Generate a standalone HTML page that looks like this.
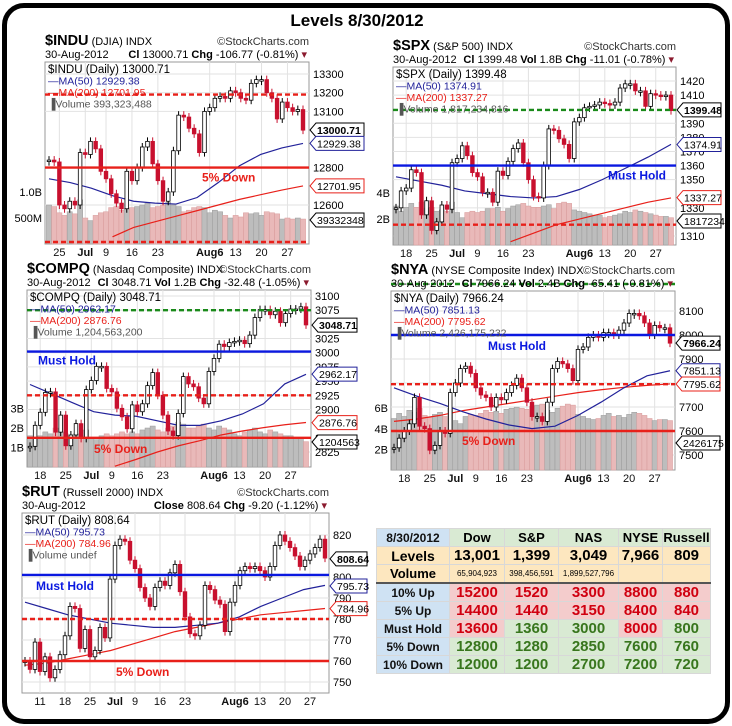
<!DOCTYPE html>
<html><head><meta charset="utf-8">
<style>
body{margin:0;width:732px;height:726px;background:#fff;overflow:hidden;position:relative;font-family:"Liberation Sans",sans-serif}
#frame{position:absolute;left:2px;top:3px;width:718px;height:711px;border:5px solid #000;border-radius:22px}
svg{position:absolute;left:0;top:0}
#tbl{position:absolute;left:376px;top:528px;border-collapse:collapse;font-family:"Liberation Sans",sans-serif}
#tbl td{border:1px solid #d8d8d8;text-align:center;padding:0;height:17px;line-height:16px;font-weight:bold}
.lb{background:#cfe2f3;font-size:12px;color:#111}
.hd{background:#d9ead3;font-size:13px}
.or{background:#fde7bf}
.rd{background:#f4cccc;color:#d00010;font-size:15px}
.gr{background:#d9ead3;color:#38761d;font-size:15px}
.vol{font-size:8px;font-weight:normal!important}
</style></head><body>
<div id="frame"></div>
<svg id="s" width="732" height="726">
<text x="357" y="26" text-anchor="middle" font-size="17" font-weight="bold">Levels 8/30/2012</text>
</svg>
<table id="tbl">
<tr><td class="lb" style="width:72px">8/30/2012</td><td class="hd" style="width:54px">Dow</td><td class="hd" style="width:53px">S&amp;P</td><td class="hd" style="width:59px">NAS</td><td class="hd" style="width:43px">NYSE</td><td class="hd" style="width:47px">Russell</td></tr>
<tr style="font-size:15px"><td class="or" style="font-size:14px">Levels</td><td class="or">13,001</td><td class="or">1,399</td><td class="or">3,049</td><td class="or">7,966</td><td class="or">809</td></tr>
<tr style="border-bottom:2px solid #555"><td class="or" style="font-size:13px">Volume</td><td class="or vol">65,904,923</td><td class="or vol">398,456,591</td><td class="or vol">1,899,527,796</td><td class="or"></td><td class="or"></td></tr>
<tr><td class="lb">10% Up</td><td class="rd">15200</td><td class="rd">1520</td><td class="rd">3300</td><td class="rd">8800</td><td class="rd">880</td></tr>
<tr><td class="lb">5% Up</td><td class="rd">14400</td><td class="rd">1440</td><td class="rd">3150</td><td class="rd">8400</td><td class="rd">840</td></tr>
<tr><td class="lb">Must Hold</td><td class="rd">13600</td><td class="gr">1360</td><td class="gr">3000</td><td class="rd">8000</td><td class="gr">800</td></tr>
<tr><td class="lb">5% Down</td><td class="gr">12800</td><td class="gr">1280</td><td class="gr">2850</td><td class="gr">7600</td><td class="gr">760</td></tr>
<tr><td class="lb">10% Down</td><td class="gr">12000</td><td class="gr">1200</td><td class="gr">2700</td><td class="gr">7200</td><td class="gr">720</td></tr>
</table>
<script>
// ---- data ----
const induClose=[12840,12830,12600,12580,12620,12600,12880,12870,12940,12900,12780,12740,12660,12610,12580,12780,12730,12800,12910,12940,12820,12730,12620,12670,12890,13080,13070,13010,12980,12880,13100,13120,13170,13180,13170,13210,13200,13170,13160,13250,13270,13270,13200,13170,13060,13150,13120,13100,13110,13000];
const induVol=[0.75,0.72,0.6,0.55,0.62,0.58,0.85,0.5,0.45,0.55,0.6,0.62,0.7,0.72,0.65,0.68,0.7,0.72,0.75,0.78,0.7,0.72,0.75,0.8,0.75,0.72,0.62,0.65,0.7,0.72,0.7,0.6,0.65,0.62,0.55,0.5,0.55,0.52,0.6,0.58,0.6,0.55,0.62,0.6,0.58,0.48,0.5,0.48,0.5,0.48];
const induMa50=[12740,12720,12690,12650,12620,12610,12605,12640,12720,12810,12870,12905,12929];
const induMa200=[null,null,null,12430,12480,12510,12540,12570,12600,12630,12655,12680,12702];
const induXLabels=["25","Jul","9","16","23","Aug6","13","20","27"];
const induXIdx=[2,7,11,16,21,31,36,41,46];

const spxClose=[1330,1342,1344,1357,1355,1325,1335,1314,1320,1332,1329,1362,1365,1374,1367,1355,1352,1341,1341,1334,1356,1353,1363,1372,1376,1362,1350,1338,1337,1360,1386,1385,1379,1375,1365,1391,1394,1401,1402,1403,1405,1404,1403,1405,1415,1418,1418,1413,1413,1402,1411,1410,1409,1410,1399];
const spxVol=[3.0,2.6,2.9,3.2,2.9,3.3,2.8,2.9,2.6,2.7,2.6,3.3,2.5,2.1,2.5,2.6,2.5,2.6,2.8,2.8,2.9,2.6,2.8,3.0,3.1,3.2,3.0,2.9,2.9,3.0,3.1,2.8,3.2,3.3,3.2,2.7,2.6,2.5,2.4,2.3,2.3,2.1,2.2,2.3,2.4,2.6,2.5,2.7,2.6,2.5,2.4,2.3,2.2,2.2,2.1];
const spxMa50=[1352,1349,1346,1342,1340,1338,1337,1338,1343,1350,1358,1366,1375];
const spxMa200=[null,null,null,null,null,1306,1312,1318,1322,1326,1330,1334,1337];
const spxXLabels=["18","25","Jul","9","16","23","Aug6","13","20","27"];
const spxXIdx=[2,7,12,16,21,26,36,41,46,51];

const compClose=[2835,2872,2895,2930,2931,2860,2890,2836,2855,2875,2849,2935,2951,2976,2976,2937,2931,2902,2887,2866,2908,2896,2910,2942,2965,2925,2890,2862,2854,2893,2958,2945,2940,2920,2910,2967,2990,3015,3011,3018,3020,3022,3016,3031,3062,3076,3076,3067,3073,3053,3069,3077,3077,3081,3049];
const compVol=[1.6,1.5,1.6,1.8,1.7,2.0,1.8,1.7,1.6,1.7,1.6,1.9,1.5,1.4,1.6,1.7,1.6,1.7,1.8,1.7,1.8,1.7,1.9,2.0,2.1,1.9,1.8,2.0,2.1,2.3,2.2,2.0,2.0,2.1,2.2,2.0,1.9,2.1,2.0,1.9,1.7,1.6,1.8,1.9,2.0,1.8,1.7,1.9,1.8,1.7,1.6,1.6,1.5,1.5,1.3];
const compMa50=[2944,2928,2912,2896,2890,2888,2880,2872,2872,2880,2892,2910,2945,2962];
const compMa200=[null,null,null,null,2800,2812,2825,2836,2845,2855,2862,2868,2873,2877];
const compXLabels=["18","25","Jul","9","16","23","Aug6","13","20","27"];
const compXIdx=[2,7,12,16,21,26,36,41,46,51];

const nyaClose=[7530,7570,7600,7630,7740,7620,7610,7520,7540,7600,7590,7760,7800,7860,7870,7840,7780,7750,7740,7700,7740,7730,7760,7790,7820,7780,7720,7660,7660,7640,7720,7860,7890,7880,7860,7810,7940,7950,7990,8000,7990,8010,8010,8000,8020,8050,8090,8090,8080,8050,8000,8040,8030,8030,7966];
const nyaVol=[5.0,5.5,5.2,5.8,5.6,6.0,5.3,5.1,5.4,5.6,5.2,6.0,4.8,4.5,5.2,5.4,5.3,5.5,5.8,5.6,5.7,5.5,5.9,6.0,6.1,6.0,5.9,6.2,6.3,6.4,5.8,5.6,6.0,6.2,6.4,6.3,5.4,5.2,5.0,4.9,5.0,5.3,5.5,5.2,5.3,5.1,5.4,5.6,5.5,5.3,5.0,4.8,4.9,4.9,4.8];
const nyaMa50=[7780,7745,7715,7680,7650,7625,7610,7620,7665,7720,7780,7830,7851];
const nyaMa200=[7640,7650,7665,7685,7700,7715,7730,7745,7760,7772,7782,7790,7796];
const nyaXLabels=["18","25","Jul","9","16","23","Aug6","13","20","27"];
const nyaXIdx=[2,7,12,16,21,26,36,41,46,51];

const rutClose=[760,756,769,755,762,752,756,763,772,786,785,766,775,762,765,776,771,799,815,818,817,808,804,795,790,786,795,798,796,802,806,793,781,773,772,777,796,794,789,787,774,788,796,803,805,804,805,803,800,805,815,820,817,814,810,805,808,811,814,818,809];
const rutMa50=[788,785,782,780,778,777,776,776,777,778,781,786,790,794,796];
const rutMa200=[758,759,761,763,765,768,771,774,776,778,780,782,783,784,785];
const rutXLabels=["11","18","25","Jul","9","16","23","Aug6","13","20","27"];
const rutXIdx=[3,8,13,18,22,27,32,42,47,52,57];

const NS="http://www.w3.org/2000/svg";
const svg=document.getElementById('s');
function mk(tag,attrs,parent,txt){const e=document.createElementNS(NS,tag);for(const k in attrs)e.setAttribute(k,attrs[k]);if(txt!==undefined)e.textContent=txt;(parent||svg).appendChild(e);return e;}

function panel(c,closes,vols,ma50,ma200,xl,xi){
  const g=mk('g',{});
  
  
  const yv=v=>c.ya+(v-c.pa)*(c.yb-c.ya)/(c.pb-c.pa);
  const n=closes.length;
  const step=(c.xe-c.xs)/(n-1);
  const xv=i=>c.xs+i*step;
  const fr=mk('rect',{x:c.x0,y:c.y0,width:c.x1-c.x0,height:c.y1-c.y0,fill:'#fff',stroke:'#999','stroke-width':1},g);
  
  
  c.ticks.forEach(t=>{const y=yv(t);if(y>c.y0&&y<c.y1)mk('line',{x1:c.x0,x2:c.x1,y1:y,y2:y,stroke:'#e2e2e2'},g);});
  xi.forEach((ix,k)=>{const x=xv(ix);mk('line',{x1:x,x2:x,y1:c.y0,y2:c.y1,stroke:'#e2e2e2'},g);
    const t=mk('text',{x:x,y:c.y1+12,'font-size':11,'text-anchor':'middle',fill:'#111','font-weight':(xl[k]=='Jul'||xl[k]=='Aug6')?'bold':'normal'},g,xl[k]);
    
    });
  if(vols){vols.forEach((v,i)=>{const up=i==0||closes[i]>=closes[i-1];
    const b=mk('rect',{x:xv(i)-step/2,y:c.vb-v*c.vs,width:step,height:v*c.vs,fill:up?'#bdbdbd':'#e9b9b9',stroke:up?'#9a9a9a':'#d89a9a','stroke-width':0.5},g);
    
    });
    c.vt.forEach(t=>mk('text',{x:c.x0-3,y:c.vb-t[0]*c.vs+4,'font-size':11,'text-anchor':'end'},g,t[1]));}
  const maLine=(arr,col,nm)=>{const st=(n-1)/(arr.length-1);let pts=[];arr.forEach((v,k)=>{if(v!==null)pts.push(xv(k*st)+','+yv(v));});
    const p=mk('polyline',{points:pts.join(' '),fill:'none',stroke:col,'stroke-width':1.2},g);
    
    };
  maLine(ma200,'#e8201a','ma200-line');maLine(ma50,'#22229a','ma50-line');
  closes.forEach((cl,i)=>{const op=i==0?cl:closes[i-1];const x=xv(i);
    const top=yv(Math.max(op,cl)),bot=yv(Math.min(op,cl));const h=Math.max(bot-top,1.5);
    mk('line',{x1:x,x2:x,y1:top-4,y2:top+h+4,stroke:cl>=op?'#000':'#c8102e'},g);
    const r=mk('rect',{x:x-1.8,y:top,width:3.6,height:h,fill:cl>=op?'#fff':'#c8102e',stroke:cl>=op?'#000':'#c8102e','stroke-width':0.8},g);
    
    });
  c.levels.forEach(L=>{const y=L.y!==undefined?L.y:yv(L.v);
    const l=mk('line',{x1:c.x0,x2:c.x1,y1:y,y2:y,stroke:L.col,'stroke-width':2.4,'stroke-dasharray':L.dash?'5,3':'none'},g);
    
    
    if(L.label){const t=mk('text',{x:L.lx,y:y+L.ly,'font-size':12,'font-weight':'bold',fill:L.col},g,L.label);
      
      }});
  c.ticks.forEach(t=>{const y=yv(t);if(y>c.y0-2&&y<c.y1+2)mk('text',{x:c.x1+4,y:y+4,'font-size':11},g,String(t));});
  c.boxes.forEach(b=>{const y=b.y!==undefined?b.y:yv(b.v);const x=c.x1+1,w=b.w||54;
    mk('polygon',{points:`${x},${y} ${x+6},${y-7} ${x+w},${y-7} ${x+w},${y+7} ${x+6},${y+7}`,fill:'#fff',stroke:b.col,'stroke-width':1},g);
    mk('text',{x:x+7,y:y+4,'font-size':10.5,'font-weight':b.bold?'bold':'normal'},g,b.t);});
  const lg=[[c.sym+' (Daily) '+c.last,'#000'],['\u2014MA(50) '+c.m50,'#22229a'],['\u2014MA(200) '+c.m200,'#e8201a']];
  if(c.volTxt)lg.push(['\u2590Volume '+c.volTxt,'#555']);
  lg.forEach((l,k)=>mk('text',{x:c.x0+3,y:c.y0+11+k*11.5,'font-size':k==0?11.5:10.5,fill:l[1]},g,l[0]));
  const h=mk('text',{x:c.x0,y:c.y0-17,'font-size':11},g);
  
  
  mk('tspan',{'font-size':14.5,'font-weight':'bold'},h,c.sym);mk('tspan',{},h,' '+c.full+' INDX');
  mk('text',{x:c.x1,y:c.y0-17,'font-size':11,'text-anchor':'end',fill:'#333'},g,'\u00a9StockCharts.com');
  mk('text',{x:c.x0,y:c.y0-4,'font-size':11},g,'30-Aug-2012');
  const h2=mk('text',{x:c.x1-2,y:c.y0-4,'font-size':11,'text-anchor':'end'},g);
  h2.innerHTML=c.hdr+' <tspan fill="#8b1a2e">\u25be</tspan>';
}

panel({name:'indu',x0:45,x1:309,y0:62,y1:244,xs:49,xe:303,ya:74,pa:13300,yb:205,pb:12600,vb:244,vs:52,vt:[[1,'1.0B'],[0.5,'500M']],
 ticks:[13300,13200,13100,12800,12600],sym:'$INDU',full:'(DJIA)',last:'13000.71',m50:'12929.38',m200:'12701.95',volTxt:'393,323,488',
 hdr:'<tspan font-weight="bold">Cl</tspan> 13000.71  <tspan font-weight="bold">Chg</tspan> -106.77 (-0.81%)',
 levels:[{v:13190,col:'#e8201a',dash:1},{v:12800,col:'#e8201a',label:'5% Down',lx:202,ly:14},{y:242,col:'#e8201a',dash:1}],
 boxes:[{v:13000.71,t:'13000.71',col:'#000',bold:1},{v:12929.38,t:'12929.38',col:'#22229a'},{v:12701.95,t:'12701.95',col:'#e8201a'},{y:220,t:'39332348',col:'#000'}]},
 induClose,induVol,induMa50,induMa200,induXLabels,induXIdx);

panel({name:'spx',x0:393,x1:676,y0:67,y1:245,xs:396,xe:671,ya:81,pa:1420,yb:236,pb:1310,vb:245,vs:13,vt:[[4,'4B'],[2,'2B']],
 ticks:[1420,1410,1390,1380,1370,1360,1350,1330,1310],sym:'$SPX',full:'(S&P 500)',last:'1399.48',m50:'1374.91',m200:'1337.27',volTxt:'1,817,234,816',
 hdr:'<tspan font-weight="bold">Cl</tspan> 1399.48 <tspan font-weight="bold">Vol</tspan> 1.8B <tspan font-weight="bold">Chg</tspan> -11.01 (-0.78%)',
 levels:[{v:1399.48,col:'#1a8a1a',dash:1},{v:1360,col:'#0a18e0',label:'Must Hold',lx:608,ly:14},{v:1318,col:'#e8201a',dash:1}],
 boxes:[{v:1399.48,t:'1399.48',col:'#000',bold:1,w:44},{v:1374.91,t:'1374.91',col:'#22229a',w:44},{v:1337.27,t:'1337.27',col:'#e8201a',w:44},{y:221,t:'1817234',col:'#000',w:44}]},
 spxClose,spxVol,spxMa50,spxMa200,spxXLabels,spxXIdx);

panel({name:'compq',x0:27,x1:311,y0:290,y1:467,xs:30,xe:306,ya:296,pa:3100,yb:452,pb:2825,vb:467,vs:19.5,vt:[[3,'3B'],[2,'2B'],[1,'1B']],
 ticks:[3100,3075,3025,3000,2975,2950,2925,2900,2850,2825],sym:'$COMPQ',full:'(Nasdaq Composite)',last:'3048.71',m50:'2962.17',m200:'2876.76',volTxt:'1,204,563,200',
 hdr:'<tspan font-weight="bold">Cl</tspan> 3048.71 <tspan font-weight="bold">Vol</tspan> 1.2B <tspan font-weight="bold">Chg</tspan> -32.48 (-1.05%)',
 levels:[{v:3075,col:'#1a8a1a',dash:1},{v:3002,col:'#0a18e0',label:'Must Hold',lx:38,ly:13},{v:2925,col:'#e8201a',dash:1},{v:2850,col:'#e8201a',label:'5% Down',lx:94,ly:15}],
 boxes:[{v:3048.71,t:'3048.71',col:'#000',bold:1,w:45},{v:2962.17,t:'2962.17',col:'#22229a',w:45},{v:2876.76,t:'2876.76',col:'#e8201a',w:45},{y:442,t:'1204563',col:'#000',w:45}]},
 compClose,compVol,compMa50,compMa200,compXLabels,compXIdx);

panel({name:'nya',x0:391,x1:675,y0:291,y1:470,xs:394,xe:670,ya:311,pa:8100,yb:455,pb:7500,vb:470,vs:10.3,vt:[[6,'6B'],[4,'4B'],[2,'2B']],
 ticks:[8100,8000,7900,7800,7700,7600,7500],sym:'$NYA',full:'(NYSE Composite Index)',last:'7966.24',m50:'7851.13',m200:'7795.62',volTxt:'2,426,175,232',
 hdr:'<tspan font-weight="bold">Cl</tspan> 7966.24 <tspan font-weight="bold">Vol</tspan> 2.4B <tspan font-weight="bold">Chg</tspan> -65.41 (-0.81%)',
 levels:[{y:284,col:'#1a8a1a',dash:1},{v:8000,col:'#0a18e0',label:'Must Hold',lx:488,ly:15},{v:7795,col:'#e8201a',dash:1},{v:7600,col:'#e8201a',label:'5% Down',lx:462,ly:14}],
 boxes:[{v:7966.24,t:'7966.24',col:'#000',bold:1,w:44},{v:7851.13,t:'7851.13',col:'#22229a',w:44},{v:7795.62,t:'7795.62',col:'#e8201a',w:44},{y:443,t:'2426175',col:'#000',w:44}]},
 nyaClose,nyaVol,nyaMa50,nyaMa200,nyaXLabels,nyaXIdx);

panel({name:'rut',x0:22,x1:329,y0:513,y1:693,xs:25,xe:325,ya:535,pa:820,yb:682,pb:750,
 ticks:[820,800,790,780,770,760,750],sym:'$RUT',full:'(Russell 2000)',last:'808.64',m50:'795.73',m200:'784.96',volTxt:'undef',
 hdr:'<tspan font-weight="bold">Close</tspan> 808.64 <tspan font-weight="bold">Chg</tspan> -9.20 (-1.12%)',
 levels:[{v:801,col:'#0a18e0',label:'Must Hold',lx:36,ly:15},{v:780,col:'#e8201a',dash:1},{v:760,col:'#e8201a',label:'5% Down',lx:116,ly:15}],
 boxes:[{v:808.64,t:'808.64',col:'#000',bold:1,w:37},{v:795.73,t:'795.73',col:'#22229a',w:37},{v:784.96,t:'784.96',col:'#e8201a',w:37}]},
 rutClose,null,rutMa50,rutMa200,rutXLabels,rutXIdx);
</script>
</body></html>
